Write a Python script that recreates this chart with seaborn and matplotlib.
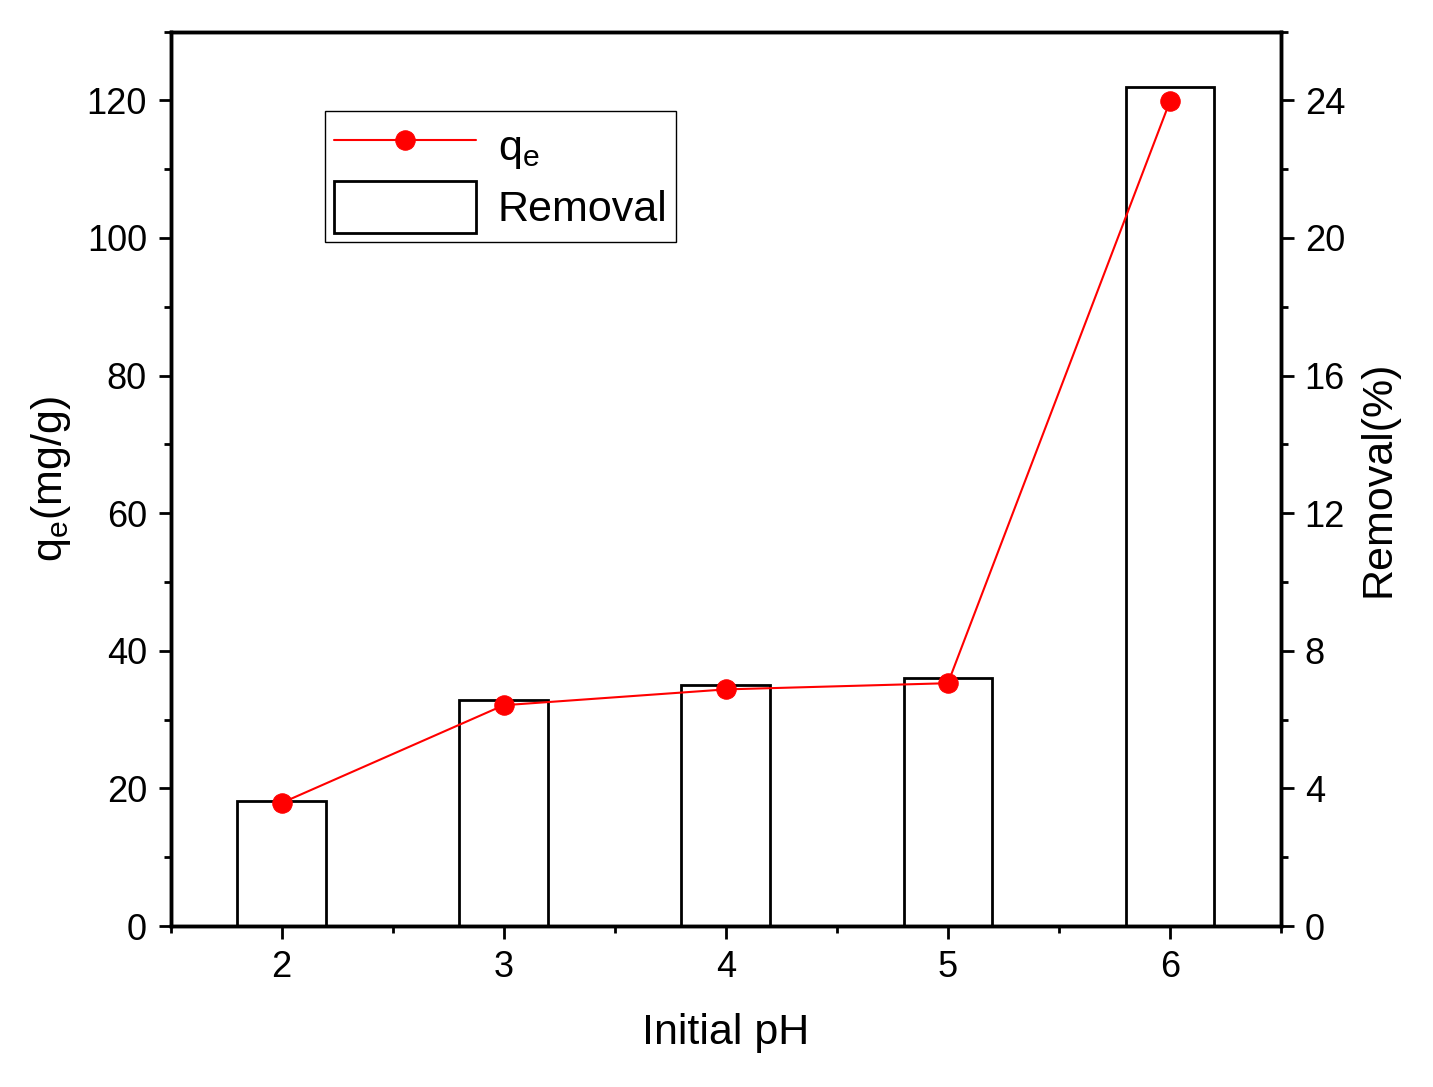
import matplotlib
matplotlib.use("Agg")
import matplotlib.pyplot as plt
import seaborn as sns
from matplotlib.ticker import MultipleLocator

ph = [2, 3, 4, 5, 6]
qe = [17.9, 32.1, 34.4, 35.3, 119.9]
removal = [3.63, 6.57, 7.0, 7.21, 24.4]

sns.set_style("ticks")
plt.rcParams['font.family'] = ['Liberation Sans', 'DejaVu Sans']
plt.rcParams['mathtext.fontset'] = 'custom'
plt.rcParams['mathtext.rm'] = 'Liberation Sans'
plt.rcParams['mathtext.it'] = 'Liberation Sans'
plt.rcParams['text.color'] = 'black'
plt.rcParams['axes.labelcolor'] = 'black'
plt.rcParams['xtick.color'] = 'black'
plt.rcParams['ytick.color'] = 'black'
plt.rcParams['axes.edgecolor'] = 'black'

fig, ax = plt.subplots(figsize=(14.33, 10.87), dpi=100)
fig.subplots_adjust(left=0.119, right=0.894, top=0.971, bottom=0.148)
ax2 = ax.twinx()

# bars on the right axis, line on top
bars = ax2.bar(ph, removal, width=0.4, facecolor='white', edgecolor='black', linewidth=2, label='Removal')
ax.set_zorder(ax2.get_zorder() + 1)
ax.patch.set_visible(False)
sns.lineplot(x=ph, y=qe, ax=ax, color='red', marker='o', markersize=14, linewidth=1.5,
             markeredgecolor='red', legend=False)

ax.set_xlim(1.5, 6.5)
ax.set_ylim(0, 130)
ax2.set_ylim(0, 26)
ax.set_xticks(ph)
ax.xaxis.set_minor_locator(MultipleLocator(0.5))
ax.yaxis.set_major_locator(MultipleLocator(20))
ax.yaxis.set_minor_locator(MultipleLocator(10))
ax2.yaxis.set_major_locator(MultipleLocator(4))
ax2.yaxis.set_minor_locator(MultipleLocator(2))

for a in (ax, ax2):
    for s in a.spines.values():
        s.set_linewidth(2.5)
        s.set_visible(True)
    a.tick_params(which='major', length=9, width=2, labelsize=26, direction='out', pad=8)
    a.tick_params(which='minor', length=5, width=2, direction='out')

ax.set_xlabel('Initial pH', fontsize=31, labelpad=20)
ax.set_ylabel('q$_\\mathregular{e}$(mg/g)', fontsize=31, labelpad=10)
ax2.set_ylabel('Removal(%)', fontsize=31, labelpad=10)

handles = [ax.get_lines()[0], bars]
leg = ax.legend(handles, ['q$_\\mathregular{e}$', 'Removal'], loc='upper left',
                bbox_to_anchor=(0.12, 0.935), fontsize=31, fancybox=False,
                edgecolor='black', framealpha=1, handlelength=3.3, handleheight=1.5,
                handletextpad=0.5, borderpad=0.2, labelspacing=0.2)
leg.get_frame().set_linewidth(1)

fig.savefig('out.png', dpi=100)
